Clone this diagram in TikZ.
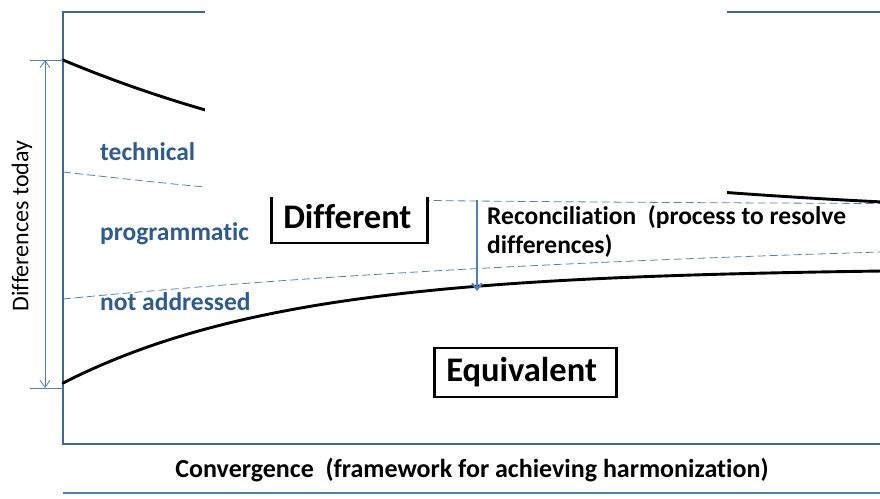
\documentclass[tikz,border=0pt]{standalone}
\usepackage{fontspec}
\setmainfont{Carlito}[Ligatures=NoCommon]
\usetikzlibrary{arrows.meta}
\definecolor{frameblue}{HTML}{41669C}
\definecolor{labelblue}{HTML}{2E5C8E}
\definecolor{lineblue}{HTML}{4F81BD}
\tikzset{
  axisline/.style={frameblue,line width=2.8pt},
  bandline/.style={lineblue,line width=0.8pt,dash pattern=on 8pt off 4pt},
  curveline/.style={black,line width=2.9pt,line cap=round},
  layerlabel/.style={labelblue,anchor=base west,inner sep=0pt,font=\fontsize{25.5}{28}\selectfont\bfseries},
  statebox/.style={draw,line width=2.5pt,fill=white,inner xsep=12pt,inner ysep=0pt,align=left,anchor=west,font=\fontsize{34.5}{38}\selectfont\bfseries},
  measure/.style={lineblue,line width=0.8pt}
}
\begin{document}
\begin{tikzpicture}[x=1pt,y=-1pt]
\useasboundingbox (0,0) rectangle (880,498);
\coordinate (tl) at (63,12);
\coordinate (tr) at (880,12);
\coordinate (bl) at (63,444);
\coordinate (br) at (880,444);
\coordinate (hi) at (63,60);
\coordinate (lo) at (63,388);
\coordinate (hitick) at (30,60);
\coordinate (lotick) at (30,388);
\coordinate (hiarr) at (45,60);
\coordinate (loarr) at (45,388);
\coordinate (recA) at (477,200);
\coordinate (recB) at (477,291);

\draw[axisline] (tr) -- (tl) -- (bl) -- (br);
\draw[lineblue,line width=1.8pt] (63,493) -- (880,493);

\draw[bandline] plot[smooth] coordinates {(63,172) (205,187) (370,199) (600,202) (880,203.5)};
\draw[bandline] plot[domain=63:880,samples=60] (\x,{230.8+68.2*exp(-(\x-63)/700)});
\draw[curveline] plot[domain=63:880,samples=80] (\x,{220.8-160.8*exp(-(\x-63)/382)});
\draw[curveline] plot[domain=63:880,samples=80] (\x,{268+115*exp(-(\x-63)/225)});

\node[statebox,text width=132pt,minimum height=52pt] (diff) at (270,217) {Different};
\node[statebox,text width=158pt,minimum height=49pt] (equiv) at (433,372.5) {Equivalent};

\fill[white] (205,-2) rectangle (727,197);

\draw[measure] (hitick) -- (hi);
\draw[measure] (lotick) -- (lo);
\draw[measure,{Straight Barb[length=7pt,width=10pt]}-{Straight Barb[length=7pt,width=10pt]}] (hiarr) -- (loarr);
\draw[lineblue,line width=2pt,-{Straight Barb[length=6pt,width=10pt]}] (recA) -- (recB);

\node[layerlabel] (tech) at (100,160) {technical};
\node[layerlabel] (prog) at (100,240) {programmatic};
\node[layerlabel] (notad) at (100,310) {not addressed};
\node[rotate=90,font=\fontsize{24}{28}\selectfont] (today) at (22,226) {Differences today};
\node[anchor=north west,align=left,inner sep=0pt,font=\fontsize{25.5}{29}\selectfont\bfseries] (recon) at (487,205.5) {Reconciliation~ (process to resolve\\differences)};
\node[font=\fontsize{26}{28}\selectfont\bfseries] (conv) at (472,470) {Convergence~ (framework for achieving harmonization)};
\end{tikzpicture}
\end{document}
